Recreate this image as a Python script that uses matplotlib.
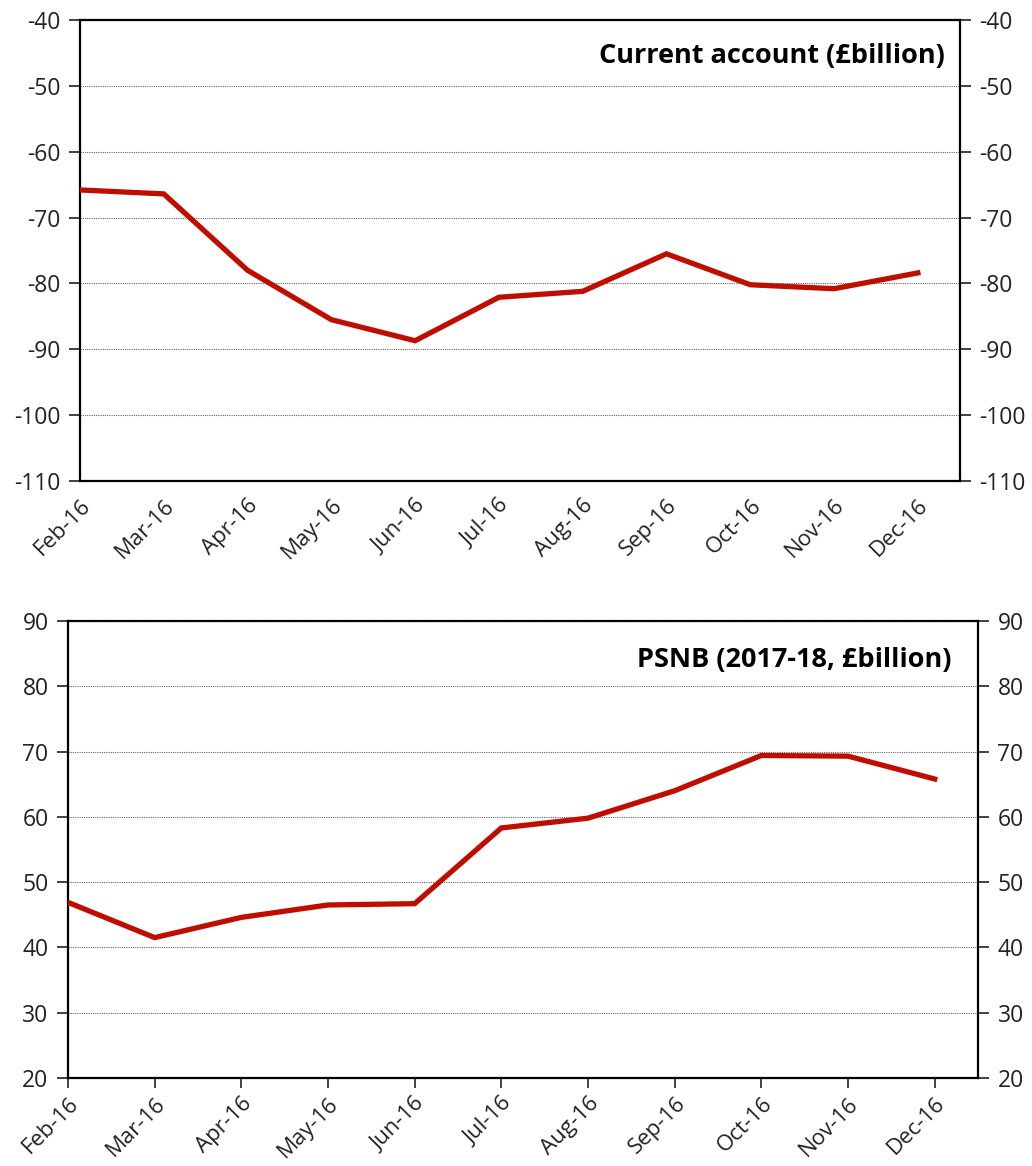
import matplotlib.pyplot as plt

plt.rcParams['font.family'] = ['Open Sans', 'DejaVu Sans']
plt.rcParams['axes.unicode_minus'] = False

months = ["Feb-16", "Mar-16", "Apr-16", "May-16", "Jun-16", "Jul-16",
          "Aug-16", "Sep-16", "Oct-16", "Nov-16", "Dec-16"]
current_account = [-65.8, -66.4, -78.0, -85.5, -88.7, -82.1, -81.2, -75.5, -80.2, -80.8, -78.4]
psnb = [46.9, 41.5, 44.6, 46.5, 46.7, 58.3, 59.8, 64.0, 69.4, 69.3, 65.8]

RED = '#c00d00'

fig = plt.figure(figsize=(10.32, 11.66), dpi=100)
ax1 = fig.add_axes([0.0775, 0.5875, 0.8525, 0.3953])
ax2 = fig.add_axes([0.0659, 0.0755, 0.8818, 0.3919])


def style(ax, data, ylim, title, xticklen, xpad, tx, ty):
    x = list(range(len(data)))
    ax.plot(x, data, color=RED, lw=3.8, solid_joinstyle='miter', zorder=3)
    ax.set_xlim(0, 10.5)
    ax.set_ylim(*ylim)
    ax.set_yticks(range(ylim[0], ylim[1] + 1, 10))
    ax.yaxis.grid(True, color='#666666', linestyle=(0, (1, 1)), lw=0.8)
    ax.set_axisbelow(True)
    ax.set_xticks(x)
    ax.set_xticklabels(months, rotation=45, ha='right', rotation_mode='anchor')
    ax.tick_params(axis='y', which='both', direction='out', length=8, width=1.2,
                   labelsize=16.5, right=True, labelright=True, colors='#222222',
                   pad=6)
    ax.tick_params(axis='x', direction='out', length=xticklen, width=1.2,
                   labelsize=16, colors='#222222', pad=xpad)
    for s in ax.spines.values():
        s.set_linewidth(1.6)
        s.set_color('black')
    ax.text(tx, ty, title, transform=ax.transAxes, ha='right', va='center',
            fontsize=19.5, fontweight='bold', color='black')


style(ax1, current_account, (-110, -40), "Current account (£billion)", 0, 10, 0.983, 0.922)
style(ax2, psnb, (20, 90), "PSNB (2017-18, £billion)", 7, 4, 0.971, 0.915)

fig.savefig('out.png', dpi=100)
